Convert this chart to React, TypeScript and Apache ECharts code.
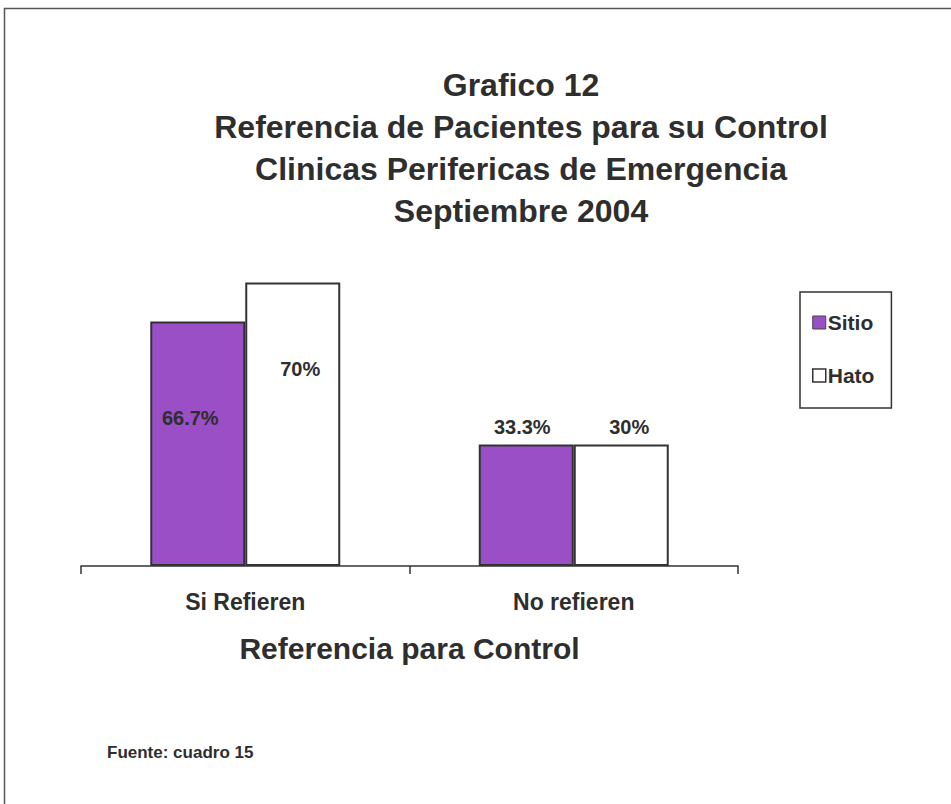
import React, { useEffect, useRef } from "react";
import * as echarts from "echarts";

const categories = ["Si Refieren", "No refieren"];
const seriesNames = ["Sitio", "Hato"];
// bar heights as drawn in the picture (percent scale) and their printed labels
const sitioValues = [60.4, 30];
const sitioLabels = ["66.7%", "33.3%"];
const hatoValues = [70, 30];
const hatoLabels = ["70%", "30%"];
const titleLines = [
  "Grafico 12",
  "Referencia de Pacientes para su Control",
  "Clinicas Perifericas de Emergencia",
  "Septiembre 2004",
];
const axisTitle = "Referencia para Control";
const sourceNote = "Fuente: cuadro 15";

const FONT = "'Liberation Sans', Arial, sans-serif";
const TXT = "#2e2e2e";
const PURPLE = "#9a4fc6";

export default function App() {
  const ref = useRef<HTMLDivElement>(null);
  useEffect(() => {
    document.body.style.margin = "0";
    const chart = echarts.init(ref.current!, null, { renderer: "svg" });
    const labelBase = {
      show: true,
      color: TXT,
      fontFamily: FONT,
      fontWeight: "bold" as const,
      fontSize: 20,
    };
    chart.setOption({
      animation: false,
      backgroundColor: "#ffffff",
      textStyle: { fontFamily: FONT },
      title: {
        text: titleLines.join("\n"),
        left: 516,
        top: 59,
        textAlign: "center",
        textStyle: {
          fontFamily: FONT,
          fontWeight: "bold",
          fontSize: 32,
          lineHeight: 42,
          color: TXT,
        },
      },
      legend: {
        orient: "vertical",
        left: 800,
        top: 292,
        padding: [20, 17, 22, 12],
        itemGap: 32,
        itemWidth: 13,
        itemHeight: 13,
        borderColor: "#333",
        borderWidth: 1.5,
        icon: "rect",
        textStyle: {
          fontFamily: FONT,
          fontWeight: "bold",
          fontSize: 21,
          color: TXT,
          padding: [0, 0, 0, -3],
        },
        data: [
          { name: seriesNames[0], itemStyle: { color: PURPLE, borderColor: "#444", borderWidth: 1 } },
          { name: seriesNames[1], itemStyle: { color: "#fff", borderColor: "#333", borderWidth: 1.5 } },
        ],
      },
      grid: { left: 81, right: 213, top: 242, bottom: 238 },
      xAxis: {
        type: "category",
        data: categories,
        name: axisTitle,
        nameLocation: "middle",
        nameGap: 67,
        nameTextStyle: {
          fontFamily: FONT,
          fontWeight: "bold",
          fontSize: 30,
          color: TXT,
        },
        axisLine: { lineStyle: { color: "#333", width: 1.5 } },
        axisTick: { show: true, length: 8, lineStyle: { color: "#333", width: 1.5 } },
        axisLabel: {
          margin: 24,
          fontFamily: FONT,
          fontWeight: "bold",
          fontSize: 23,
          color: TXT,
        },
      },
      yAxis: {
        type: "value",
        min: 0,
        max: 80,
        show: false,
        splitLine: { show: false },
      },
      series: [
        {
          name: seriesNames[0],
          type: "bar",
          barWidth: 95,
          barGap: "0%",
          itemStyle: { color: PURPLE, borderColor: "#333", borderWidth: 2 },
          data: sitioValues.map((v, i) => ({
            value: v,
            label:
              i === 0
                ? { ...labelBase, formatter: sitioLabels[i], position: [40, 97], align: "center", verticalAlign: "middle" }
                : { ...labelBase, formatter: sitioLabels[i], position: "top", distance: 8, offset: [-4, 0] },
          })),
        },
        {
          name: seriesNames[1],
          type: "bar",
          barWidth: 95,
          barGap: "0%",
          itemStyle: { color: "#ffffff", borderColor: "#333", borderWidth: 2 },
          data: hatoValues.map((v, i) => ({
            value: v,
            label:
              i === 0
                ? { ...labelBase, formatter: hatoLabels[i], position: [55, 86], align: "center", verticalAlign: "middle" }
                : { ...labelBase, formatter: hatoLabels[i], position: "top", distance: 8, offset: [8, 0] },
          })),
        },
      ],
      graphic: [
        {
          type: "rect",
          shape: { x: 4.5, y: 8.5, width: 1000, height: 1000 },
          style: { fill: "none", stroke: "#555", lineWidth: 1.5 },
          silent: true,
        },
        {
          type: "text",
          left: 107,
          top: 744,
          style: {
            text: sourceNote,
            font: `bold 17px ${FONT}`,
            fill: TXT,
          },
        },
      ],
    });
    return () => chart.dispose();
  }, []);
  return (
    <div
      ref={ref}
      style={{ position: "absolute", left: 0, top: 0, width: 951, height: 804 }}
    />
  );
}
